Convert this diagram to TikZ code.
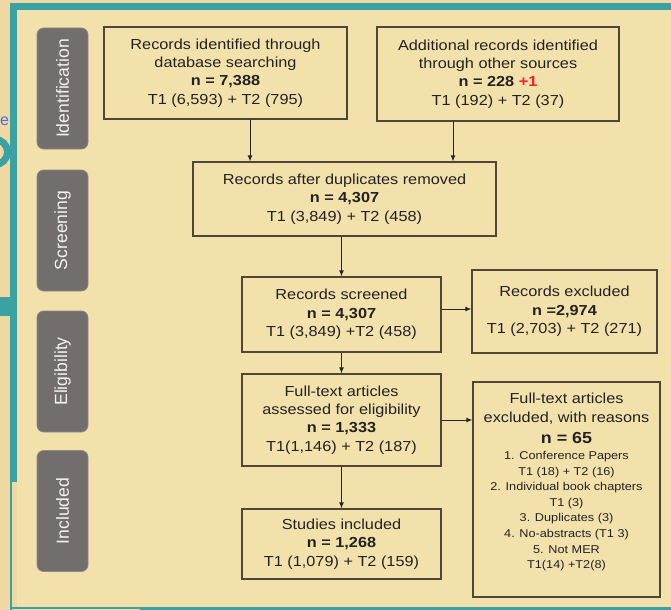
\documentclass[tikz,border=0pt]{standalone}
\usepackage{fontspec}
\setmainfont{Liberation Sans}[FakeStretch=1.12]
\newfontfamily\labelfont{Liberation Sans}
\usetikzlibrary{arrows.meta}
\definecolor{bgout}{HTML}{EFD9A2}
\definecolor{bgin}{HTML}{F3E1AC}
\definecolor{framecol}{HTML}{3AA2A3}
\definecolor{phasegray}{HTML}{736E6E}
\definecolor{phaseedge}{HTML}{8E8983}
\definecolor{boxline}{HTML}{4E4636}
\definecolor{txt}{HTML}{222222}
\definecolor{linkblue}{HTML}{4B6BF5}
\definecolor{plusred}{HTML}{FF1E1E}
\newcommand{\lstline}[1]{{\fontsize{8.5pt}{11pt}\selectfont #1}}
\tikzset{
  box/.style={draw=boxline, line width=0.8pt, inner sep=0pt, align=center, text=txt,
    font=\fontsize{10.9pt}{13.7pt}\selectfont},
  phase/.style={fill=phasegray, draw=phaseedge, line width=0.6pt, rounded corners=5pt, rotate=90,
    minimum width=90.75pt, minimum height=38.25pt, inner sep=0pt, text=white!95!black,
    font=\labelfont\fontsize{13.2pt}{15pt}\selectfont},
  arr/.style={draw=black!85, line width=0.75pt, -{Latex[length=4.5pt,width=3.6pt]}},
}
\begin{document}
\begin{tikzpicture}[x=0.75pt, y=-0.75pt]
\useasboundingbox (0,0) rectangle (671,610);
% background and frame
\fill[bgout] (0,0) rectangle (671,610);
\fill[bgin] (17,10) rectangle (671,607);
\fill[framecol] (10,3) rectangle (671,10);
\fill[framecol] (10,3) rectangle (17,482);
\fill[framecol] (10,482) rectangle (12,610);
\fill[framecol] (10,607) rectangle (140,609);
\fill[framecol] (140,606.5) rectangle (671,610);
\fill[framecol] (0,297) rectangle (17,316);
\draw[framecol, line width=5.25pt] (-5,152) circle[radius=9.4pt];
\node[text=linkblue, font=\labelfont\fontsize{12pt}{14pt}\selectfont, inner sep=0pt] (eglyph) at (4.5,121) {e};

% phase labels
\node[phase] (pid) at (62.5,88.5) {Identification};
\node[phase] (psc) at (62.5,230.5) {Screening};
\node[phase] (pel) at (62.5,371.5) {Eligibility};
\node[phase] (pin) at (62.5,511) {Included};

% boxes
\node[box, minimum width=182.25pt, minimum height=69pt] (db) at (225.5,73)
  {Records identified through\\database searching\\\textbf{n = 7,388}\\T1 (6,593) + T2 (795)};
\node[box, minimum width=181.5pt, minimum height=70.5pt] (add) at (498,74)
  {Additional records identified\\through other sources\\\textbf{n = 228 \textcolor{plusred}{+1}}\\T1 (192) + T2 (37)};
\node[box, minimum width=227.25pt, minimum height=55.5pt] (dup) at (344.5,199)
  {Records after duplicates removed\\\textbf{n = 4,307}\\T1 (3,849) + T2 (458)};
\node[box, minimum width=149.25pt, minimum height=56.25pt] (scr) at (341.5,314.5)
  {Records screened\\\textbf{n = 4,307}\\T1 (3,849) +T2 (458)};
\node[box, minimum width=138.75pt, minimum height=62.25pt] (exc) at (564.5,311.5)
  {Records excluded\\\textbf{n =2,974}\\T1 (2,703) + T2 (271)};
\node[box, minimum width=149.25pt, minimum height=69pt] (ft) at (341.5,420)
  {Full-text articles\\assessed for eligibility\\\textbf{n = 1,333}\\T1(1,146) + T2 (187)};
\node[box, minimum width=140.25pt, minimum height=161.25pt] (ftx) at (566.5,489.5) {};
\node[box, draw=none, anchor=north] (ftxtext) at (566.5,392.5)
  {Full-text articles\\[0.85pt]
   excluded, with reasons\\[1.75pt]
   {\fontsize{12pt}{14pt}\selectfont\bfseries n = 65}\\[-1.7pt]
   \lstline{1. Conference Papers}\\[-2pt]
   \lstline{T1 (18) + T2 (16)}\\[-2pt]
   \lstline{2. Individual book chapters}\\[-2pt]
   \lstline{T1 (3)}\\[-2pt]
   \lstline{3. Duplicates (3)}\\[-2pt]
   \lstline{4. No-abstracts (T1 3)}\\[-2pt]
   \lstline{5. Not MER}\\[-2pt]
   \lstline{T1(14) +T2(8)}};
\node[box, minimum width=149.25pt, minimum height=52.5pt] (inc) at (341.5,544)
  {Studies included\\\textbf{n = 1,268}\\T1 (1,079) + T2 (159)};

% connectors
\coordinate (xa) at (250,0);
\coordinate (xb) at (453,0);
\coordinate (ye) at (0,309);
\draw[arr] (db.south -| xa) -- (dup.north -| xa);
\draw[arr] (add.south -| xb) -- (dup.north -| xb);
\draw[arr] (dup.south -| scr.north) -- (scr.north);
\draw[arr] (scr.east |- ye) -- (exc.west |- ye);
\draw[arr] (scr.south) -- (ft.north);
\draw[arr] (ft.east) -- (ft.east -| ftx.west);
\draw[arr] (ft.south) -- (inc.north);
\end{tikzpicture}
\end{document}
